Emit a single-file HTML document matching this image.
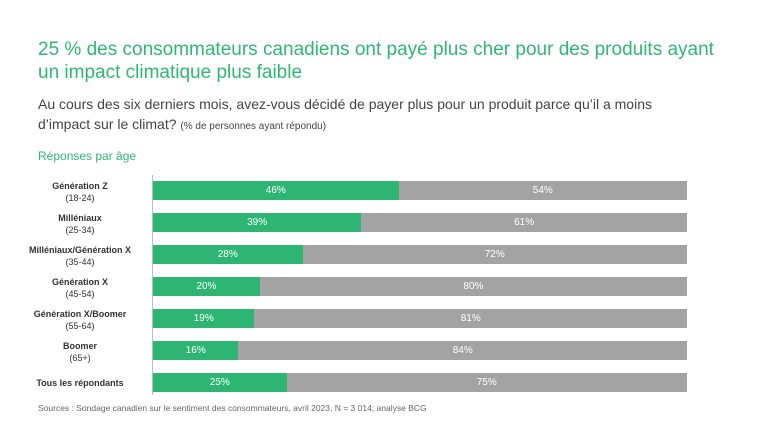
<!DOCTYPE html>
<html><head><meta charset="utf-8"><style>
body{margin:0;width:768px;height:432px;background:#fff;font-family:"Liberation Sans",sans-serif;position:relative;overflow:hidden}
.a{position:absolute;white-space:nowrap}
.t{left:38px;top:38px;font-size:19px;color:#2fb873;line-height:23px}
.s{left:38px;top:94px;font-size:14px;color:#444;line-height:20px}
.lab{position:absolute;width:140px;left:10px;text-align:center;font-size:9px;color:#333;line-height:12px}
.bar{position:absolute;left:153px;width:534px;height:19px;background:#a3a3a3}
.g{position:absolute;left:0;top:0;height:19px;background:#2db673}
.v{position:absolute;top:0;line-height:19px;font-size:10px;color:#fff;transform:translateX(-50%)}
</style></head><body>
<div class="a t">25 % des consommateurs canadiens ont payé plus cher pour des produits ayant<br>un impact climatique plus faible</div>
<div class="a s">Au cours des six derniers mois, avez-vous décidé de payer plus pour un produit parce qu’il a moins<br>d’impact sur le climat? <span style="font-size:10px">(% de personnes ayant répondu)</span></div>
<div class="a" style="left:38px;top:149px;font-size:12px;color:#2fb873">Réponses par âge</div>
<div class="a" style="left:152px;top:175px;width:1px;height:220px;background:#bbb"></div>
<div class="lab" style="top:180px"><b>Génération Z</b><br>(18-24)</div>
<div class="bar" style="top:181px"><div class="g" style="width:46%"></div><span class="v" style="left:23%">46%</span><span class="v" style="left:73%">54%</span></div>
<div class="lab" style="top:212px"><b>Milléniaux</b><br>(25-34)</div>
<div class="bar" style="top:213px"><div class="g" style="width:39%"></div><span class="v" style="left:19.5%">39%</span><span class="v" style="left:69.5%">61%</span></div>
<div class="lab" style="top:244px"><b>Milléniaux/Génération X</b><br>(35-44)</div>
<div class="bar" style="top:245px"><div class="g" style="width:28%"></div><span class="v" style="left:14%">28%</span><span class="v" style="left:64%">72%</span></div>
<div class="lab" style="top:276px"><b>Génération X</b><br>(45-54)</div>
<div class="bar" style="top:277px"><div class="g" style="width:20%"></div><span class="v" style="left:10%">20%</span><span class="v" style="left:60%">80%</span></div>
<div class="lab" style="top:308px"><b>Génération X/Boomer</b><br>(55-64)</div>
<div class="bar" style="top:309px"><div class="g" style="width:19%"></div><span class="v" style="left:9.5%">19%</span><span class="v" style="left:59.5%">81%</span></div>
<div class="lab" style="top:340px"><b>Boomer</b><br>(65+)</div>
<div class="bar" style="top:341px"><div class="g" style="width:16%"></div><span class="v" style="left:8%">16%</span><span class="v" style="left:58%">84%</span></div>
<div class="lab" style="top:377px"><b>Tous les répondants</b></div>
<div class="bar" style="top:373px"><div class="g" style="width:25%"></div><span class="v" style="left:12.5%">25%</span><span class="v" style="left:62.5%">75%</span></div>
<div class="a" style="left:38px;top:403px;font-size:8.5px;color:#666">Sources : Sondage canadien sur le sentiment des consommateurs, avril 2023, N = 3 014; analyse BCG</div>
</body></html>
